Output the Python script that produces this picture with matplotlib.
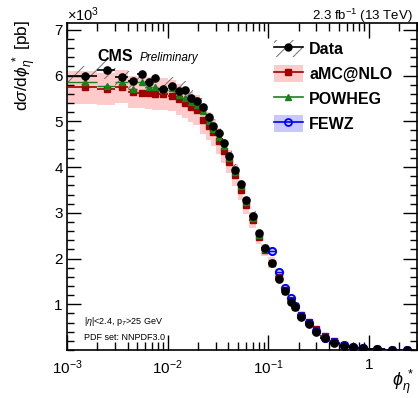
import matplotlib
matplotlib.use("Agg")
import matplotlib.pyplot as plt
import numpy as np
from matplotlib.lines import Line2D
from matplotlib.patches import Patch
from matplotlib.ticker import FixedLocator, FuncFormatter, LogLocator, MultipleLocator, NullFormatter

plt.rcParams["font.family"] = ["Liberation Sans", "DejaVu Sans"]
plt.rcParams["mathtext.fontset"] = "custom"
plt.rcParams["mathtext.rm"] = "Liberation Sans"
plt.rcParams["mathtext.it"] = "Liberation Sans:italic"
plt.rcParams["mathtext.bf"] = "Liberation Sans:bold"
plt.rcParams["hatch.linewidth"] = 0.7

# phi*_eta bins
bin_edges = [0.001, 0.002, 0.003, 0.004, 0.005, 0.006, 0.007, 0.008, 0.010, 0.012,
             0.014, 0.016, 0.018, 0.021, 0.024, 0.027, 0.030, 0.034, 0.038, 0.044,
             0.050, 0.056, 0.064, 0.076, 0.084, 0.100, 0.116, 0.138, 0.156, 0.180,
             0.192, 0.230, 0.276, 0.324, 0.400, 0.500, 0.630, 0.770, 0.970, 1.430,
             1.930, 2.810]

# cross sections in units of 10^3 pb
data_xsec = [6.00, 6.13, 5.97, 5.89, 6.04, 5.87, 5.94, 5.70, 5.77, 5.66,
             5.69, 5.51, 5.45, 5.32, 5.09, 4.89, 4.74, 4.53, 4.24, 3.94,
             3.64, 3.27, 2.93, 2.55, 2.22, 1.90, 1.55, 1.28, 1.06, 0.93,
             0.72, 0.57, 0.40, 0.26, 0.16, 0.095, 0.06, 0.04, 0.02, 0.01,
             0.005]
amcnlo_xsec = [5.74, 5.71, 5.76, 5.65, 5.63, 5.62, 5.60, 5.60, 5.56, 5.48,
               5.40, 5.32, 5.24, 5.03, 4.89, 4.76, 4.57, 4.35, 4.12, 3.83,
               3.49, 3.16, 2.84, 2.47, 2.19, 1.91, 1.60, 1.32, 1.10, 0.96,
               0.77, 0.62, 0.46, 0.30, 0.19, 0.11, 0.07, 0.045, 0.02, 0.01,
               0.005]
powheg_xsec = [5.85, 5.78, 5.85, 5.70, 5.85, 5.75, 5.76, 5.69, 5.73, 5.58,
               5.52, 5.42, 5.35, 5.22, 5.01, 4.83, 4.66, 4.46, 4.19, 3.89,
               3.58, 3.23, 2.89, 2.51, 2.21, 1.90, 1.57, 1.30, 1.08, 0.94,
               0.74, 0.58, 0.42, 0.28, 0.17, 0.10, 0.06, 0.04, 0.02, 0.01,
               0.005]
nan = np.nan
fewz_xsec = [nan, nan, nan, nan, nan, nan, nan, nan, nan, nan,
             nan, nan, nan, nan, nan, nan, nan, nan, nan, nan,
             nan, nan, nan, nan, nan, 2.17, 1.71, 1.36, 1.13, 0.96,
             0.75, 0.58, 0.42, 0.27, 0.17, 0.10, 0.06, 0.04, 0.02, 0.01,
             0.005]

data_unc_rel = 0.034
amcnlo_unc_rel = 0.062
fewz_unc_rel = 0.03
powheg_stat_rel = 0.008
data_stat_rel = 0.004

W, H = 418, 398
fig = plt.figure(figsize=(W / 100, H / 100), dpi=100)
ax = fig.add_axes([67 / W, 1 - 350 / H, 350 / W, 327 / H])

edges = np.array(bin_edges)
lo, hi = edges[:-1], edges[1:]
x = 0.5 * (lo + hi)
xerr = [x - lo, hi - x]
data = np.array(data_xsec)
amc = np.array(amcnlo_xsec)
pow_ = np.array(powheg_xsec)
fewz = np.array(fewz_xsec)

red = "#a00000"
pink = "#ffcaca"
green = "#1a801a"
blue = "#0000ff"
lightblue = "#c8c8ff"
hatch_gray = "#707070"

# uncertainty bands
ax.bar(lo, 2 * amcnlo_unc_rel * amc, width=hi - lo, bottom=amc * (1 - amcnlo_unc_rel),
       align="edge", color=pink, linewidth=0, zorder=1)
fm = ~np.isnan(fewz)
ax.bar(lo[fm], 2 * fewz_unc_rel * fewz[fm], width=(hi - lo)[fm],
       bottom=fewz[fm] * (1 - fewz_unc_rel), align="edge", color=lightblue,
       linewidth=0, zorder=1.5)
ax.bar(lo, 2 * data_unc_rel * data, width=hi - lo, bottom=data * (1 - data_unc_rel),
       align="edge", facecolor="none", edgecolor=hatch_gray, hatch="//",
       linewidth=0, zorder=2)

ax.errorbar(x, amc, xerr=xerr, fmt="s", color=red, ms=4.3, elinewidth=1.2,
            capsize=0, zorder=3)
ax.errorbar(x, pow_, xerr=xerr, yerr=powheg_stat_rel * pow_, fmt="^", color=green,
            ms=3.8, elinewidth=1.0, capsize=0, zorder=4)
ax.errorbar(x[fm], fewz[fm], xerr=[xerr[0][fm], xerr[1][fm]], fmt="o", color=blue,
            mfc="none", mew=1.4, ms=5.2, elinewidth=1.0, capsize=0, zorder=5)
ax.errorbar(x, data, xerr=xerr, yerr=data_stat_rel * data, fmt="o", color="black",
            ms=5.2, elinewidth=1.2, capsize=0, zorder=6)

ax.set_xscale("log")
ax.set_xlim(1e-3, 3.0)
ax.set_ylim(0, 7.15)

ax.yaxis.set_major_locator(FixedLocator([1, 2, 3, 4, 5, 6, 7]))
ax.yaxis.set_minor_locator(MultipleLocator(0.2))
ax.xaxis.set_major_locator(LogLocator(base=10, numticks=10))
ax.xaxis.set_minor_locator(LogLocator(base=10, subs=np.arange(2, 10), numticks=20))
ax.xaxis.set_minor_formatter(NullFormatter())
ax.xaxis.set_major_formatter(FuncFormatter(
    lambda v, p: "1" if abs(v - 1) < 1e-9 else r"$10^{%d}$" % round(np.log10(v))))

ax.tick_params(which="both", direction="in", top=True, right=True, width=1.0,
               labelsize=11)
ax.tick_params(axis="y", which="major", length=10, pad=3)
ax.tick_params(axis="y", which="minor", length=5)
ax.tick_params(axis="x", which="major", length=11, pad=6)
ax.tick_params(axis="x", which="minor", length=6)
for s in ax.spines.values():
    s.set_linewidth(1.2)

# texts
fig.text(25 / W, 1 - 20 / H, r"d$\sigma$/d$\phi_{\eta}^{\,*}$ [pb]", rotation=90,
         ha="center", va="top", fontsize=12.5)
fig.text(414 / W, 1 - 386 / H, r"$\phi_{\eta}^{\,*}$", ha="right", va="baseline",
         fontsize=13)
fig.text(67 / W, 1 - 21 / H, r"$\times10^{3}$", ha="left", va="baseline", fontsize=10.5)
fig.text(413 / W, 1 - 20 / H, r"2.3 fb$^{-1}$ (13 TeV)", ha="right", va="baseline",
         fontsize=9.5)
fig.text(97 / W, 1 - 61 / H, "CMS", fontweight="bold", fontsize=11.5, va="baseline")
fig.text(140 / W, 1 - 61 / H, "Preliminary", style="italic", fontsize=8.5,
         va="baseline")
fig.text(84 / W, 1 - 324 / H, r"|$\eta$|<2.4, p$_{T}$>25 GeV", fontsize=6.5,
         va="baseline")
fig.text(84 / W, 1 - 340 / H, "PDF set: NNPDF3.0", fontsize=6.5, va="baseline")

# legend
h_data = (Patch(facecolor="none", edgecolor=hatch_gray, hatch="//", linewidth=0),
          Line2D([], [], color="black", marker="o", ms=5, lw=1.2))
h_amc = (Patch(facecolor=pink, linewidth=0),
         Line2D([], [], color=red, marker="s", ms=5, lw=1.2))
h_pow = Line2D([], [], color=green, marker="^", ms=4, lw=1.2)
h_fewz = (Patch(facecolor=lightblue, linewidth=0),
          Line2D([], [], color=blue, marker="o", mfc="none", mew=1.3, ms=5, lw=1.2))
fig.legend([h_data, h_amc, h_pow, h_fewz], ["Data", "aMC@NLO", "POWHEG", "FEWZ"],
           loc="upper left", bbox_to_anchor=(274 / W, 1 - 40 / H), frameon=False,
           prop={"weight": "bold", "size": 11.5}, handlelength=1.8,
           handleheight=1.3, handletextpad=0.4, labelspacing=0.47,
           borderpad=0, borderaxespad=0)

fig.savefig("out.png", dpi=100)
